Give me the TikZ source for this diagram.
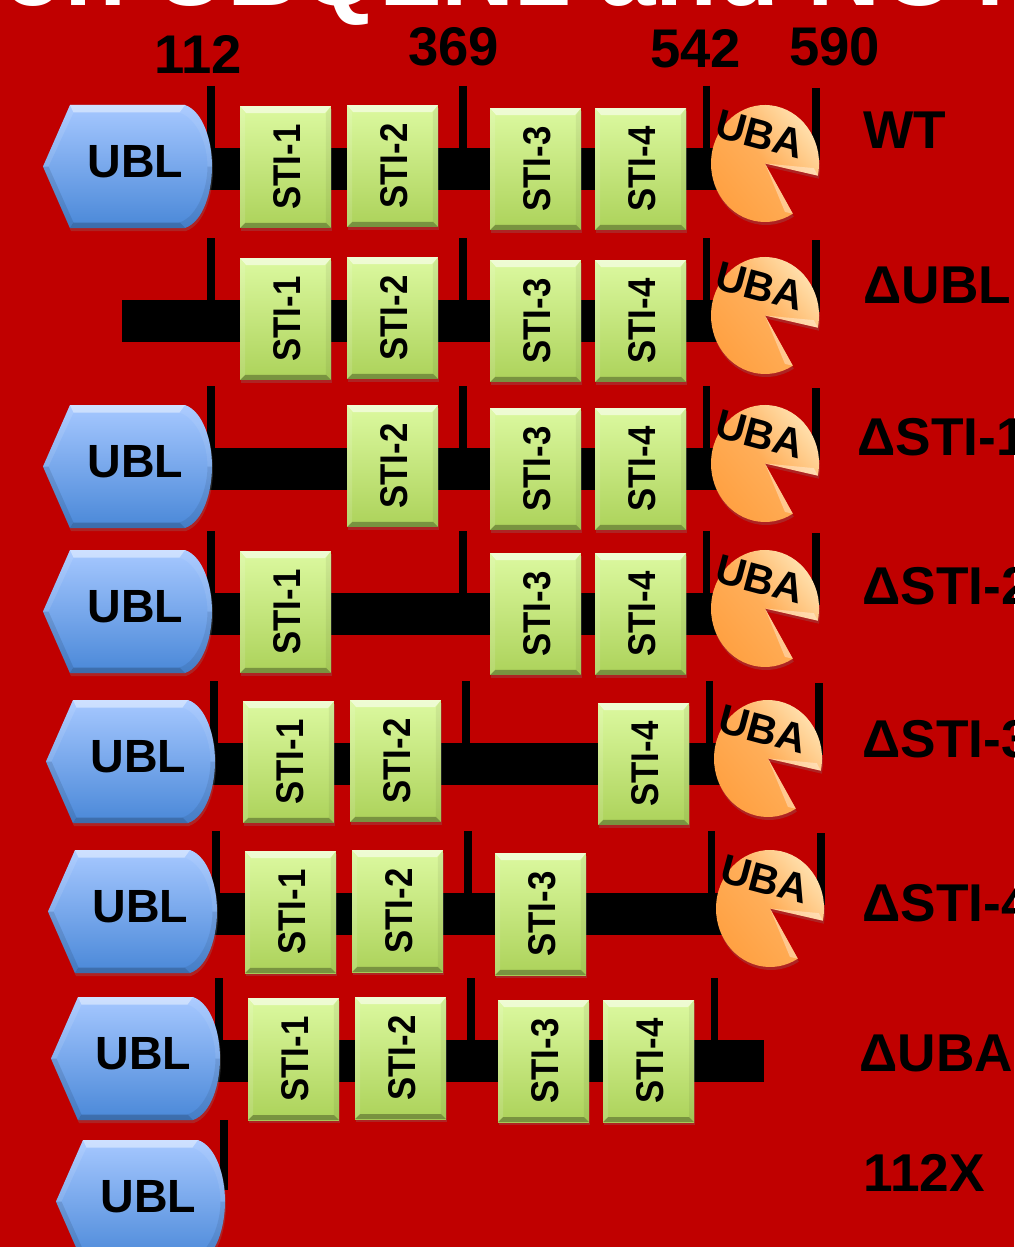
\documentclass[tikz,border=0pt]{standalone}
\usepackage{graphicx}
\usepackage{fontspec}
\setmainfont{Liberation Sans}
\usetikzlibrary{calc, shadows}
\definecolor{BGR}{RGB}{192,0,0}
\definecolor{UT}{RGB}{166,200,255}
\definecolor{UB}{RGB}{74,136,216}
\definecolor{GT}{RGB}{220,249,160}
\definecolor{GB}{RGB}{172,210,90}
\definecolor{OD}{RGB}{255,160,65}
\definecolor{OL}{RGB}{255,228,180}
\newcommand{\stilab}[1]{\hspace*{2pt}\raisebox{-1pt}{\rotatebox{90}{\scalebox{.9}[1]{#1}}}}

\tikzset{
  softshadow/.style={drop shadow={opacity=.28, shadow xshift=.2mm, shadow yshift=-.6mm}},
  stibox/.style={softshadow, top color=GT, bottom color=GB, inner sep=0pt,
    minimum width=1.82cm, minimum height=2.44cm,
    font=\fontsize{22}{22}\selectfont\bfseries,
    path picture={
      \fill[white, opacity=.55] (path picture bounding box.north west) -- (path picture bounding box.north east)
        -- ($(path picture bounding box.north east)+(-6,7)$) -- ($(path picture bounding box.north west)+(6,7)$) -- cycle;
      \fill[black, opacity=.3] (path picture bounding box.south west) -- (path picture bounding box.south east)
        -- ($(path picture bounding box.south east)+(-5,-5)$) -- ($(path picture bounding box.south west)+(5,-5)$) -- cycle;
      \fill[white, opacity=.12] (path picture bounding box.north west) -- (path picture bounding box.south west)
        -- ($(path picture bounding box.south west)+(5,-5)$) -- ($(path picture bounding box.north west)+(5,7)$) -- cycle;
      \fill[black, opacity=.06] (path picture bounding box.north east) -- (path picture bounding box.south east)
        -- ($(path picture bounding box.south east)+(-5,-5)$) -- ($(path picture bounding box.north east)+(-5,7)$) -- cycle;
    }},
  backbone/.style={draw=black, line width=0.84cm},
  tickmark/.style={draw=black, line width=0.15cm},
  rowlabel/.style={anchor=base west, inner sep=0pt, font=\fontsize{30.3}{31}\selectfont\bfseries},
  posnum/.style={anchor=base west, inner sep=0pt, font=\fontsize{31}{32}\selectfont\bfseries},
  titletext/.style={anchor=base west, inner sep=0pt, text=white, font=\fontsize{57.7}{58}\selectfont\bfseries},
  pics/ublbody/.style={code={
    \begin{scope}[x=0.02cm, y=0.02cm]
      \path[softshadow, top color=UT, bottom color=UB] (-84.5,0) -- (-57.5,61.5) -- (57.5,61.5)
        .. controls (76,55) and (84.5,25) .. (84.5,0)
        .. controls (84.5,-25) and (76,-55) .. (57.5,-61.5) -- (-57.5,-61.5) -- cycle;
      \fill[white, opacity=.45] (-57.5,61.5) -- (57.5,61.5) -- (52,54) -- (-54,54) -- cycle;
      \fill[black, opacity=.2] (-57.5,-61.5) -- (57.5,-61.5) -- (52,-56) -- (-54,-56) -- cycle;
      \fill[white, opacity=.1] (-84.5,0) -- (-57.5,61.5) -- (-54,54) -- (-79,0) -- cycle;
      \fill[black, opacity=.1] (-84.5,0) -- (-57.5,-61.5) -- (-54,-56) -- (-79,0) -- cycle;
      \fill[white, opacity=.08] (57.5,61.5) .. controls (76,55) and (84.5,25) .. (84.5,0)
        -- (80,0) .. controls (80,22) and (70,48) .. (52,54) -- cycle;
      \fill[black, opacity=.08] (57.5,-61.5) .. controls (76,-55) and (84.5,-25) .. (84.5,0)
        -- (80,0) .. controls (80,-22) and (70,-50) .. (52,-56) -- cycle;
      \node[anchor=base, inner sep=0pt, font=\fontsize{26.5}{27}\selectfont\bfseries] (-txt) at (8,-10.5) {UBL};
    \end{scope}
  }},
  pics/ubabody/.style={code={
    \begin{scope}[x=0.02cm, y=0.02cm]
      \path[softshadow, bottom color=OD, top color=OL, shading angle=-50, middle color=OD!80!OL]
        (0,0) -- (-12:54 and 58.5)
        arc[start angle=-12, end angle=301, x radius=54, y radius=58.5] -- cycle;
      \fill[white, opacity=.35] (0,0) -- (-12:54 and 58.5) -- (-5:49 and 53) -- cycle;
      \fill[white, opacity=.35] (0,0) -- (-59:54 and 58.5) -- (-66:49 and 53) -- cycle;
      \node[inner sep=0pt, rotate=-15, font=\fontsize{23.5}{24}\selectfont\bfseries] (-txt) at (-5,29) {UBA};
    \end{scope}
  }}
}

\begin{document}
\begin{tikzpicture}[x=0.02cm, y=-0.02cm]
\useasboundingbox (0,0) rectangle (1014,1247);
\fill[BGR] (0,0) rectangle (1014,1247);
\node[titletext] (T) at (2,6) {on UBQLN1 and NOT};

% Residue numbers
\node[posnum] (N1) at (154,73) {112};
\node[posnum] (N2) at (408,66) {369};
\node[posnum] (N3) at (650,68) {542};
\node[posnum] (N4) at (789,66) {590};

% Row 1: WT
\coordinate (B1s) at (205,169); \coordinate (B1e) at (730,169);
\draw[backbone] (B1s)--(B1e);
\foreach \x in {211,463,706.5} \draw[tickmark] (\x,86)--(\x,148);
\draw[tickmark] (816,88)--(816,160);
\pic (U1) at (127.5,166.5) {ublbody};
\node[stibox] (S11) at (285.5,167) {\stilab{STI-1}};
\node[stibox] (S12) at (392.5,166) {\stilab{STI-2}};
\node[stibox] (S13) at (535.5,169) {\stilab{STI-3}};
\node[stibox] (S14) at (640.5,169) {\stilab{STI-4}};
\pic (P1) at (765,163.5) {ubabody};
\node[rowlabel] (L1) at (863,149) {WT};

% Row 2: no UBL
\coordinate (B2s) at (122,321); \coordinate (B2e) at (730,321);
\draw[backbone] (B2s)--(B2e);
\foreach \x in {211,463,706.5} \draw[tickmark] (\x,238)--(\x,300);
\draw[tickmark] (816,240)--(816,312);
\node[stibox] (S21) at (285.5,319) {\stilab{STI-1}};
\node[stibox] (S22) at (392.5,318) {\stilab{STI-2}};
\node[stibox] (S23) at (535.5,321) {\stilab{STI-3}};
\node[stibox] (S24) at (640.5,321) {\stilab{STI-4}};
\pic (P2) at (765,315.5) {ubabody};
\node[rowlabel] (L2) at (863,303) {ΔUBL};

% Row 3: no STI-1
\coordinate (B3s) at (205,469); \coordinate (B3e) at (730,469);
\draw[backbone] (B3s)--(B3e);
\foreach \x in {211,463,706.5} \draw[tickmark] (\x,386)--(\x,448);
\draw[tickmark] (816,388)--(816,460);
\pic (U3) at (127.5,466.5) {ublbody};
\node[stibox] (S32) at (392.5,466) {\stilab{STI-2}};
\node[stibox] (S33) at (535.5,469) {\stilab{STI-3}};
\node[stibox] (S34) at (640.5,469) {\stilab{STI-4}};
\pic (P3) at (765,463.5) {ubabody};
\node[rowlabel] (L3) at (857,455) {ΔSTI-1};

% Row 4: no STI-2
\coordinate (B4s) at (205,614); \coordinate (B4e) at (730,614);
\draw[backbone] (B4s)--(B4e);
\foreach \x in {211,463,706.5} \draw[tickmark] (\x,531)--(\x,593);
\draw[tickmark] (816,533)--(816,605);
\pic (U4) at (127.5,611.5) {ublbody};
\node[stibox] (S41) at (285.5,612) {\stilab{STI-1}};
\node[stibox] (S43) at (535.5,614) {\stilab{STI-3}};
\node[stibox] (S44) at (640.5,614) {\stilab{STI-4}};
\pic (P4) at (765,608.5) {ubabody};
\node[rowlabel] (L4) at (862,604) {ΔSTI-2};

% Row 5: no STI-3
\coordinate (B5s) at (208,764); \coordinate (B5e) at (733,764);
\draw[backbone] (B5s)--(B5e);
\foreach \x in {214,466,709.5} \draw[tickmark] (\x,681)--(\x,743);
\draw[tickmark] (819,683)--(819,755);
\pic (U5) at (130.5,761.5) {ublbody};
\node[stibox] (S51) at (288.5,762) {\stilab{STI-1}};
\node[stibox] (S52) at (395.5,761) {\stilab{STI-2}};
\node[stibox] (S54) at (643.5,764) {\stilab{STI-4}};
\pic (P5) at (768,758.5) {ubabody};
\node[rowlabel] (L5) at (862,757) {ΔSTI-3};

% Row 6: no STI-4
\coordinate (B6s) at (210,914); \coordinate (B6e) at (735,914);
\draw[backbone] (B6s)--(B6e);
\foreach \x in {216,468,711.5} \draw[tickmark] (\x,831)--(\x,893);
\draw[tickmark] (821,833)--(821,905);
\pic (U6) at (132.5,911.5) {ublbody};
\node[stibox] (S61) at (290.5,912) {\stilab{STI-1}};
\node[stibox] (S62) at (397.5,911) {\stilab{STI-2}};
\node[stibox] (S63) at (540.5,914) {\stilab{STI-3}};
\pic (P6) at (770,908.5) {ubabody};
\node[rowlabel] (L6) at (862,921) {ΔSTI-4};

% Row 7: no UBA
\coordinate (B7s) at (213,1061); \coordinate (B7e) at (764,1061);
\draw[backbone] (B7s)--(B7e);
\foreach \x in {219,471,714.5} \draw[tickmark] (\x,978)--(\x,1040);
\pic (U7) at (135.5,1058.5) {ublbody};
\node[stibox] (S71) at (293.5,1059) {\stilab{STI-1}};
\node[stibox] (S72) at (400.5,1058) {\stilab{STI-2}};
\node[stibox] (S73) at (543.5,1061) {\stilab{STI-3}};
\node[stibox] (S74) at (648.5,1061) {\stilab{STI-4}};
\node[rowlabel] (L7) at (859,1071) {ΔUBA};

% Row 8: truncated at 112
\draw[tickmark] (224,1120)--(224,1190);
\pic (U8) at (140.5,1201.5) {ublbody};
\node[rowlabel] (L8) at (863,1191) {112X};
\end{tikzpicture}
\end{document}
